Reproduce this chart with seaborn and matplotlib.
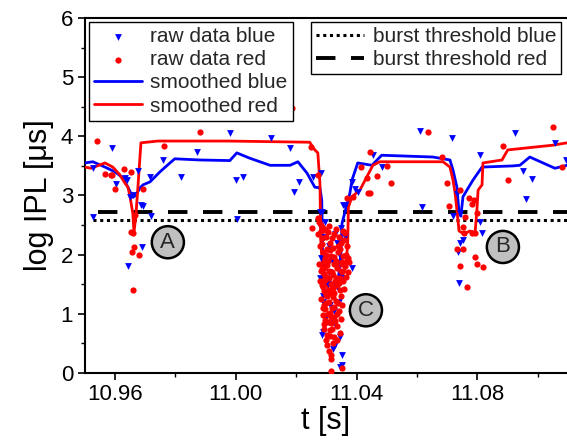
import numpy as np
import pandas as pd
import matplotlib
matplotlib.use("Agg")
import matplotlib.pyplot as plt
import seaborn as sns

# smoothed curves (t [s], log IPL [us])
blue_smooth_t = [10.9502, 10.9528, 10.9568, 10.9601, 10.9627, 10.9644, 10.9660, 10.9670, 10.9684,
                 10.9694, 10.9717, 10.9750, 10.9783, 10.9799, 10.9882, 10.9981, 11.0004, 11.0047,
                 11.0114, 11.0180, 11.0206, 11.0236, 11.0262, 11.0279, 11.0285, 11.0288, 11.0295,
                 11.0320, 11.0340, 11.0348, 11.0352, 11.0378, 11.0385, 11.0404, 11.0451, 11.0483,
                 11.0653, 11.0709, 11.0719, 11.0732, 11.0739, 11.0745, 11.0752, 11.0785, 11.0815,
                 11.0917, 11.0940, 11.0973, 11.1056, 11.1096]
blue_smooth_y = [3.55, 3.57, 3.48, 3.40, 3.30, 3.14, 2.97, 3.00, 3.13,
                 3.18, 3.23, 3.40, 3.55, 3.62, 3.60, 3.59, 3.72, 3.63,
                 3.51, 3.51, 3.57, 3.38, 3.14, 3.13, 2.92, 2.00, 1.55,
                 1.50, 1.60, 2.00, 2.53, 3.04, 3.26, 3.55, 3.51, 3.68,
                 3.65, 3.60, 3.43, 3.14, 2.70, 2.65, 2.98, 3.26, 3.48,
                 3.50, 3.51, 3.65, 3.46, 3.51]

red_smooth_t = [10.9502, 10.9522, 10.9568, 10.9594, 10.9617, 10.9634, 10.9644, 10.9651, 10.9660,
                10.9664, 10.9670, 10.9677, 10.9687, 10.9743, 10.9975, 11.0245, 11.0262, 11.0272,
                11.0279, 11.0282, 11.0290, 11.0310, 11.0330, 11.0360, 11.0368, 11.0371, 11.0373,
                11.0385, 11.0411, 11.0454, 11.0477, 11.0686, 11.0709, 11.0719, 11.0726, 11.0732,
                11.0739, 11.0755, 11.0775, 11.0792, 11.0798, 11.0802, 11.0815, 11.0818, 11.0881,
                11.0900, 11.1049, 11.1096]
red_smooth_y = [3.48, 3.46, 3.55, 3.48, 3.35, 3.21, 3.14, 2.98, 2.70,
                2.38, 2.64, 3.14, 3.89, 3.92, 3.92, 3.90, 3.77, 3.72,
                3.20, 2.20, 1.60, 1.40, 1.50, 1.70, 2.00, 2.25, 2.80,
                2.98, 3.09, 3.51, 3.57, 3.57, 3.48, 3.26, 3.04, 2.75,
                2.40, 2.35, 2.40, 2.37, 2.75, 3.09, 3.18, 3.55, 3.60,
                3.77, 3.85, 3.89]

# raw data points
blue_raw_t = [10.9591, 10.9528, 10.9604, 10.9634, 10.9641, 10.9651, 10.9660, 10.9677, 10.9687,
              10.9694, 10.9717, 10.9720, 10.9528, 10.9760, 10.9819, 10.9872, 10.9690, 10.9644,
              10.9981, 11.0117, 11.0180, 11.0001, 11.0024, 11.0004, 11.0193, 11.0209, 11.0256,
              11.0279, 11.0282, 11.0454, 11.0483, 11.0385, 11.0394, 11.0362, 11.0404, 11.0609,
              11.0716, 11.0616, 11.0732, 11.0719, 11.0742, 11.0752, 11.0815, 11.0808, 11.0742,
              11.0736, 11.0739, 11.0808, 11.0924, 11.0950, 11.0980, 11.0960, 11.1056, 11.1092,
              11.0285, 11.0354, 11.0385, 11.0285, 11.0352, 11.0352, 11.0329, 11.0345,
              11.0281, 11.0294, 11.0308, 11.0336, 11.0350, 11.0363, 11.0283, 11.0299, 11.0319,
              11.0345, 11.0279, 11.0304, 11.0334, 11.0354, 11.0290, 11.0313, 11.0343, 11.0299,
              11.0327, 11.0288, 11.0345, 11.0322,
              11.0296, 11.0330, 11.0310, 11.0290, 11.0350, 11.0325]
blue_raw_y = [3.80, 3.46, 3.19, 3.30, 3.26, 2.97, 3.00, 3.41, 2.84,
              2.82, 3.31, 2.65, 2.64, 3.60, 3.31, 3.73, 2.13, 1.81,
              4.05, 3.97, 3.80, 3.26, 3.31, 2.60, 3.06, 3.23, 3.31,
              2.72, 3.38, 3.68, 3.48, 3.23, 3.11, 2.82, 3.06, 4.09,
              3.97, 2.81, 3.03, 2.65, 2.70, 2.25, 2.37, 3.69, 2.20,
              2.05, 1.52, 2.55, 4.05, 3.41, 3.28, 2.94, 3.89, 3.60,
              2.72, 2.84, 1.77, 0.64, 0.30, 0.13, 0.47, 0.10,
              2.45, 2.30, 2.15, 2.20, 2.45, 2.30, 1.95, 1.80, 1.90,
              1.70, 1.60, 1.50, 1.45, 1.60, 1.30, 1.15, 1.20, 0.95,
              0.85, 0.70, 0.60, 0.40,
              2.55, 2.35, 1.70, 1.20, 1.95, 1.05]

red_raw_t = [10.9542, 10.9763, 10.9882, 11.0186, 11.0249, 10.9568, 10.9588, 10.9631, 10.9654,
             10.9601, 10.9654, 10.9660, 10.9667, 10.9591, 10.9664, 10.9657, 10.9680, 10.9660,
             10.9694, 11.0252, 11.0272, 11.0414, 11.0434, 11.0467, 11.0500, 11.0444, 11.0513,
             11.0636, 11.0683, 11.0699, 11.0706, 11.0368, 11.0388, 11.0444, 11.0437, 11.0884,
             11.1049, 11.1079, 11.0900, 11.0742, 11.0772, 11.0782, 11.0788, 11.0759, 11.0752,
             11.0755, 11.0782, 11.0792, 11.0798, 11.0732, 11.0752, 11.0742, 11.0792, 11.0798,
             11.0818, 11.0765,
             11.0276, 11.0282, 11.0290, 11.0299, 11.0313, 11.0327, 11.0345, 11.0359, 11.0365, 11.0371,
             11.0279, 11.0288, 11.0295, 11.0303, 11.0317, 11.0331, 11.0340, 11.0352, 11.0361, 11.0373,
             11.0277, 11.0285, 11.0292, 11.0301, 11.0310, 11.0322, 11.0334, 11.0345, 11.0356, 11.0366,
             11.0280, 11.0290, 11.0297, 11.0306, 11.0315, 11.0327, 11.0337, 11.0349, 11.0359,
             11.0282, 11.0291, 11.0301, 11.0308, 11.0319, 11.0331, 11.0342, 11.0352,
             11.0288, 11.0297, 11.0306, 11.0317, 11.0327, 11.0337, 11.0347,
             11.0294, 11.0303, 11.0313, 11.0325, 11.0336, 11.0345,
             11.0301, 11.0310, 11.0317, 11.0315, 11.0315, 11.0351,
             11.0286, 11.0304, 11.0323, 11.0341, 11.0354, 11.0297, 11.0325, 11.0350, 11.0302, 11.0330,
             11.0312, 11.0339, 11.0293, 11.0321, 11.0295, 11.0314, 11.0273, 11.0370, 11.0375, 11.0272,
             11.0284, 11.0296, 11.0308, 11.0320, 11.0333, 11.0347, 11.0362,
             11.0287, 11.0300, 11.0312, 11.0326, 11.0338, 11.0356,
             11.0283, 11.0294, 11.0306, 11.0318, 11.0332, 11.0343, 11.0351,
             11.0286, 11.0298, 11.0310, 11.0322, 11.0335, 11.0346,
             11.0289, 11.0300, 11.0311, 11.0324, 11.0336,
             11.0292, 11.0304, 11.0320, 11.0330,
             11.0300, 11.0312, 11.0322]
red_raw_y = [3.92, 3.84, 4.08, 4.48, 3.82, 3.36, 3.35, 3.45, 3.40,
             3.11, 2.38, 2.37, 2.67, 3.34, 2.13, 2.04, 1.99, 1.40,
             3.11, 2.45, 3.34, 3.48, 3.30, 3.33, 3.50, 3.04, 3.21,
             4.08, 3.65, 3.21, 2.82, 2.96, 2.98, 3.73, 3.04, 3.84,
             4.16, 3.48, 3.26, 3.09, 2.96, 2.86, 2.92, 2.64, 2.47,
             2.37, 2.37, 2.37, 2.70, 2.09, 2.09, 1.81, 1.96, 1.84,
             1.79, 1.45,
             2.55, 2.40, 2.45, 2.30, 2.20, 2.35, 2.10, 2.25, 2.00, 1.95,
             2.15, 2.05, 1.95, 2.10, 1.98, 1.90, 2.05, 1.85, 1.80, 1.70,
             1.85, 1.75, 1.68, 1.82, 1.72, 1.65, 1.78, 1.60, 1.55, 1.62,
             1.55, 1.45, 1.58, 1.40, 1.50, 1.35, 1.48, 1.30, 1.42,
             1.25, 1.15, 1.30, 1.20, 1.10, 1.22, 1.05, 1.15,
             0.98, 0.90, 1.00, 0.85, 0.95, 0.80, 0.92,
             0.75, 0.65, 0.72, 0.60, 0.55, 0.68,
             0.48, 0.38, 0.30, 0.23, 0.03, 0.08,
             2.28, 2.38, 2.12, 2.30, 2.40, 1.88, 1.84, 1.72, 1.62, 1.56,
             1.36, 1.18, 1.38, 1.28, 1.08, 0.95, 2.62, 2.15, 1.88, 2.35,
             2.50, 2.42, 2.48, 2.28, 2.44, 2.20, 2.36,
             2.18, 2.00, 2.08, 1.96, 2.15, 1.98,
             1.72, 1.78, 1.90, 1.70, 1.86, 1.52, 1.88,
             1.48, 1.32, 1.60, 1.44, 1.60, 1.40,
             1.10, 1.18, 1.02, 1.12, 1.00,
             0.82, 0.86, 0.75, 0.88,
             0.55, 0.62, 0.50]

thr_blue = 2.58
thr_red = 2.72

labels = ["A", "B", "C"]
label_t = [10.9776, 11.0884, 11.0431]
label_y = [2.21, 2.13, 1.06]

sns.set_theme(style="ticks")
plt.rcParams['font.family'] = ['Liberation Sans', 'DejaVu Sans']

fig = plt.figure(figsize=(5.67, 4.46), dpi=100)
ax = fig.add_axes([0.1499, 0.1637, 0.8501, 0.7960])

ax.hlines(thr_blue, 10.9528, 11.12, colors='black', linestyles=(0, (1, 1.2)), lw=2.2,
          label='burst threshold blue')
ax.hlines(thr_red, 10.9545, 11.12, colors='black', linestyles=(0, (5, 4)), lw=2.8,
          label='burst threshold red')

sns.lineplot(x=blue_smooth_t, y=blue_smooth_y, color='blue', lw=2, ax=ax, sort=False,
             label='smoothed blue', zorder=3)
sns.lineplot(x=red_smooth_t, y=red_smooth_y, color='red', lw=2, ax=ax, sort=False,
             label='smoothed red', zorder=3)
sns.scatterplot(x=blue_raw_t, y=blue_raw_y, marker='v', color='blue', s=24, linewidth=0,
                ax=ax, label='raw data blue', zorder=4)
sns.scatterplot(x=red_raw_t, y=red_raw_y, marker='o', color='red', s=20, linewidth=0,
                ax=ax, label='raw data red', zorder=4)

for lab, lt, ly in zip(labels, label_t, label_y):
    ax.text(lt, ly, lab, ha='center', va='center', fontsize=16, zorder=6,
            bbox=dict(boxstyle='circle,pad=0.25', fc='#c0c0c0', ec='black', lw=1.8))

ax.set_xlim(10.9502, 11.1096)
ax.set_ylim(0, 6)
ax.set_xticks([10.96, 11.00, 11.04, 11.08])
ax.set_xticklabels(['10.96', '11.00', '11.04', '11.08'])
ax.set_xticks([10.98, 11.02, 11.06, 11.10], minor=True)
ax.set_yticks(range(0, 7))
ax.set_yticks(np.arange(0.5, 6, 1.0), minor=True)
ax.tick_params(axis='both', which='major', labelsize=16, direction='out', length=5, width=1.2,
               color='black', labelcolor='black')
ax.tick_params(axis='both', which='minor', direction='out', length=3, width=1.0, color='black')
ax.tick_params(axis='x', pad=3)
ax.set_xlabel('t [s]', fontsize=22, color='black', labelpad=1)
ax.set_ylabel('log IPL [μs]', fontsize=22, color='black', labelpad=5)
for sp in ['left', 'bottom', 'top']:
    ax.spines[sp].set_color('black')
    ax.spines[sp].set_linewidth(1.5)
ax.spines['right'].set_visible(False)

handles, labs = ax.get_legend_handles_labels()
hmap = dict(zip(labs, handles))
order1 = ['raw data blue', 'raw data red', 'smoothed blue', 'smoothed red']
leg1 = ax.legend([hmap[k] for k in order1], order1, loc='upper left', bbox_to_anchor=(0.008, 0.989),
                 fontsize=15, frameon=True, fancybox=False, edgecolor='black', framealpha=1,
                 handlelength=2.3, handletextpad=0.4, borderpad=0.25, labelspacing=0.2,
                 borderaxespad=0.0)
leg1.get_frame().set_linewidth(1.0)
leg1.set_zorder(7)
ax.add_artist(leg1)
order2 = ['burst threshold blue', 'burst threshold red']
leg2 = ax.legend([hmap[k] for k in order2], order2, loc='upper right', bbox_to_anchor=(0.988, 0.989),
                 fontsize=15, frameon=True, fancybox=False, edgecolor='black', framealpha=1,
                 handlelength=2.3, handletextpad=0.4, borderpad=0.25, labelspacing=0.2,
                 borderaxespad=0.0)
leg2.get_frame().set_linewidth(1.0)
leg2.set_zorder(7)

fig.savefig('out.png', dpi=100)
